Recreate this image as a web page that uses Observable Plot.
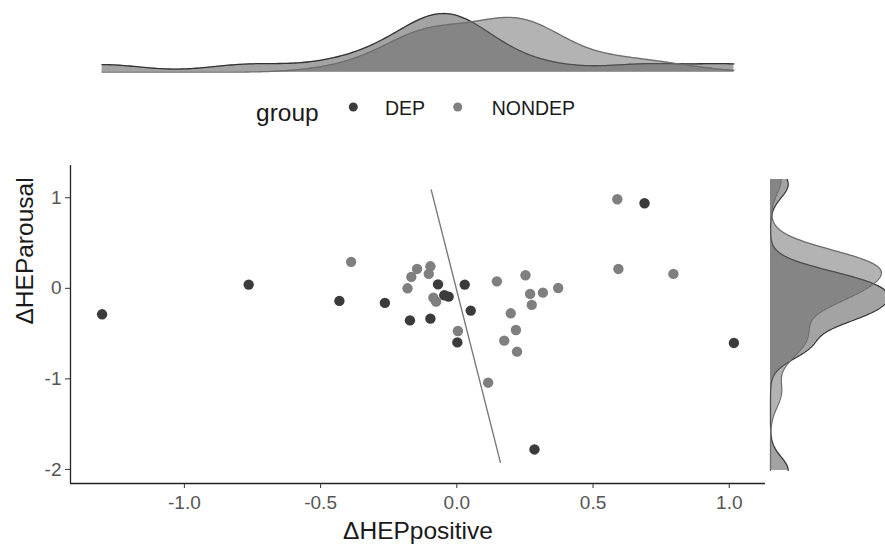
<!DOCTYPE html>
<html>
<head>
<meta charset="utf-8">
<script src="https://cdn.jsdelivr.net/npm/d3@7"></script>
<script src="https://cdn.jsdelivr.net/npm/@observablehq/plot@0.6"></script>
<style>
  body { margin: 0; background: #fff; }
  #chart { position: relative; width: 885px; height: 548px; overflow: hidden; background: #fff;
           font-family: "Liberation Sans", Arial, Helvetica, sans-serif; }
  #chart > * { position: absolute; }
</style>
</head>
<body>
<div id="chart"></div>
<script>
// ---------------- data ----------------
const groups = ["DEP", "NONDEP"];
const depX = [-1.302, -0.764, -0.431, -0.264, -0.069, -0.046, -0.030, -0.172, -0.097, 0.002, 0.029, 0.051, 0.285, 0.689, 1.017];
const depY = [-0.287, 0.041, -0.139, -0.161, 0.044, -0.077, -0.092, -0.354, -0.335, -0.597, 0.041, -0.246, -1.779, 0.939, -0.603];
const nondepX = [-0.388, -0.181, -0.167, -0.146, -0.097, -0.103, -0.086, -0.076, 0.004, 0.147, 0.252, 0.269, 0.316, 0.372, 0.275, 0.198, 0.217, 0.174, 0.221, 0.115, 0.589, 0.593, 0.795];
const nondepY = [0.292, 0.000, 0.126, 0.214, 0.243, 0.159, -0.103, -0.147, -0.471, 0.077, 0.144, -0.062, -0.048, 0.004, -0.183, -0.276, -0.460, -0.578, -0.699, -1.042, 0.983, 0.214, 0.159];
const lineX = [-0.094, 0.160];
const lineY = [1.087, -1.922];
const xTicks = [-1.0, -0.5, 0.0, 0.5, 1.0];
const yTicks = [-2, -1, 0, 1];
const xTitle = "ΔHEPpositive";
const yTitle = "ΔHEParousal";
const legendTitle = "group";

// ---------------- styling / scales ----------------
const xDomain = [-1.418, 1.133];
const yDomain = [-2.155, 1.356];
const pointColors = ["#3b3b3b", "#7f7f7f"];
const fillColors = ["#474747", "#676767"];
const outlineColors = ["#333333", "#6e6e6e"];
const adjustX = [1.5, 1.15];   // density smoothing per group (like ggplot's adjust), top margin
const adjustY = [1.0, 1.0];    // right margin
const FONT = '"Liberation Sans", Arial, Helvetica, sans-serif';

const points = [
  ...depX.map((x, i) => ({x, y: depY[i], group: "DEP"})),
  ...nondepX.map((x, i) => ({x, y: nondepY[i], group: "NONDEP"}))
];
const fitLine = lineX.map((x, i) => ({x, y: lineY[i]}));

// kernel density (gaussian, bw.nrd0 like ggplot's default, times adjust)
function bwNrd0(v) {
  const s = [...v].sort(d3.ascending);
  const sd = d3.deviation(s);
  const iqr = d3.quantileSorted(s, 0.75) - d3.quantileSorted(s, 0.25);
  let lo = Math.min(sd, iqr / 1.34);
  if (!(lo > 0)) lo = sd;
  return 0.9 * lo * Math.pow(s.length, -0.2);
}
function kde(v, lo, hi, group, adjust, n = 256) {
  const h = bwNrd0(v) * adjust;
  const c = 1 / (v.length * h * Math.sqrt(2 * Math.PI));
  return d3.range(n).map(i => {
    const t = lo + (hi - lo) * i / (n - 1);
    let s = 0;
    for (const x of v) { const z = (t - x) / h; s += Math.exp(-0.5 * z * z); }
    return {v: t, d: s * c, group};
  });
}
const xExt = d3.extent(points, d => d.x);
const yExt = d3.extent(points, d => d.y);
const topDens = [kde(depX, xExt[0], xExt[1], "DEP", adjustX[0]), kde(nondepX, xExt[0], xExt[1], "NONDEP", adjustX[1])];
const rightDens = [kde(depY, yExt[0], yExt[1], "DEP", adjustY[0]), kde(nondepY, yExt[0], yExt[1], "NONDEP", adjustY[1])];
const topMax = d3.max(topDens.flat(), d => d.d);
const rightMax = d3.max(rightDens.flat(), d => d.d);

const chart = document.getElementById("chart");

// ---------------- main scatter ----------------
const main = Plot.plot({
  width: 885, height: 548,
  marginTop: 165, marginLeft: 70, marginRight: 120, marginBottom: 65,
  style: {fontFamily: FONT, background: "transparent", overflow: "visible"},
  x: {domain: xDomain},
  y: {domain: yDomain},
  color: {domain: groups, range: pointColors},
  marks: [
    Plot.ruleX([xDomain[0]], {stroke: "#222", strokeWidth: 1.3}),
    Plot.ruleY([yDomain[0]], {stroke: "#222", strokeWidth: 1.3}),
    Plot.axisX({ticks: xTicks, tickFormat: d => d.toFixed(1), tickSize: 5, tickPadding: 7,
                fontSize: 19, stroke: "#333", fill: "#555", label: null}),
    Plot.axisY({ticks: yTicks, tickFormat: d => String(d), tickSize: 5, tickPadding: 4,
                fontSize: 19, stroke: "#333", fill: "#555", label: null}),
    Plot.text([xTitle], {frameAnchor: "bottom", dy: 55, fontSize: 24.5, fill: "#1a1a1a"}),
    Plot.text([yTitle], {frameAnchor: "left", rotate: -90, dx: -45, fontSize: 24.5, fill: "#1a1a1a"}),
    Plot.line(fitLine, {x: "x", y: "y", stroke: "#7a7a7a", strokeWidth: 1.4}),
    Plot.dot(points, {x: "x", y: "y", fill: "group", r: 5.2, stroke: null})
  ]
});
main.style.left = "0px"; main.style.top = "0px";
chart.appendChild(main);

// ---------------- top marginal density ----------------
const topMarks = [];
topDens.forEach((dd, i) => {
  topMarks.push(Plot.areaY(dd, {x: "v", y: "d", fill: fillColors[i], fillOpacity: 0.5}));
  topMarks.push(Plot.line(dd, {x: "v", y: "d", stroke: outlineColors[i], strokeWidth: 1.3}));
});
const topPlot = Plot.plot({
  width: 885, height: 80,
  marginTop: 13, marginBottom: 8.3, marginLeft: 70, marginRight: 120,
  style: {background: "transparent", overflow: "visible"},
  x: {domain: xDomain, axis: null},
  y: {domain: [0, topMax], axis: null},
  marks: topMarks
});
topPlot.style.left = "0px"; topPlot.style.top = "0px";
chart.appendChild(topPlot);

// ---------------- right marginal density ----------------
const rightMarks = [];
rightDens.forEach((dd, i) => {
  rightMarks.push(Plot.areaX(dd, {y: "v", x: "d", fill: fillColors[i], fillOpacity: 0.5}));
  rightMarks.push(Plot.line(dd, {x: "d", y: "v", stroke: outlineColors[i], strokeWidth: 1.3}));
});
const rightPlot = Plot.plot({
  width: 125, height: 548,
  marginTop: 179, marginBottom: 78, marginLeft: 0, marginRight: 0,
  style: {background: "transparent", overflow: "visible"},
  x: {domain: [0, rightMax], range: [0, 118], axis: null},
  y: {domain: yExt, axis: null},
  marks: rightMarks
});
rightPlot.style.left = "770px"; rightPlot.style.top = "0px";
chart.appendChild(rightPlot);

// ---------------- legend ----------------
const leg = d3.create("svg").attr("width", 885).attr("height", 40)
  .style("left", "0px").style("top", "88px").style("font-family", FONT);
leg.append("text").attr("x", 256).attr("y", 33).attr("font-size", 24.5).attr("fill", "#1a1a1a").text(legendTitle);
const legX = [{dot: 353.3, text: 385}, {dot: 457.7, text: 491.7}];
groups.forEach((g, i) => {
  leg.append("circle").attr("cx", legX[i].dot).attr("cy", 19).attr("r", 4.5).attr("fill", pointColors[i]);
  leg.append("text").attr("x", legX[i].text).attr("y", 26.5).attr("font-size", 19.5).attr("fill", "#1a1a1a").text(g);
});
chart.appendChild(leg.node());
</script>
</body>
</html>
